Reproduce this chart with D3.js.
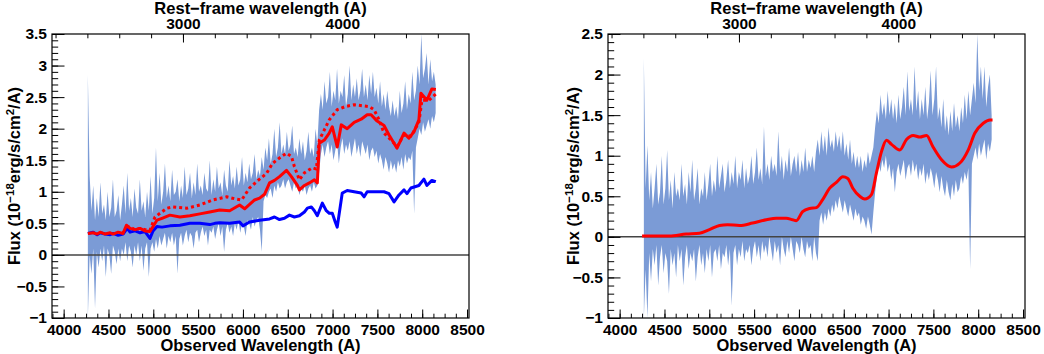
<!DOCTYPE html>
<html>
<head>
<meta charset="utf-8">
<script src="https://cdn.jsdelivr.net/npm/d3@7"></script>
<style>
  body { margin: 0; background: #fff; }
  text { font-family: "Liberation Sans", Arial, Helvetica, sans-serif; font-weight: bold; fill: #000; }
</style>
</head>
<body>
<svg id="chart" width="1044" height="354"></svg>
<script>

/************************************************************
 *
 * DATA
 *
 ************************************************************/

// sampling of the noisy spectrum band (observed A), 4270 .. 8150
var bandWave = d3.range(4270, 8151, 20);

var leftBandHi = [
  2.85,1.25,0.7,1.1,0.55,0.9,0.6,1.15,0.65,0.8,
  0.55,1.0,0.6,0.75,1.2,0.6,0.7,0.95,0.55,0.8,
  1.1,0.65,1.3,0.7,0.9,0.6,1.05,0.75,0.65,1.2,
  0.7,0.85,0.6,1.0,0.7,1.25,0.65,0.9,1.7,0.85,
  1.3,0.8,1.0,1.45,0.9,1.1,0.85,1.35,0.95,1.0,
  1.2,0.85,1.1,0.9,1.4,0.95,1.05,1.3,0.9,1.15,
  0.95,1.45,1.0,1.1,0.95,1.3,1.05,1.0,1.5,0.95,
  1.2,1.0,1.4,1.05,1.15,0.95,1.35,1.1,1.0,1.5,
  1.1,1.25,1.05,1.4,1.1,1.2,1.55,1.1,1.3,1.15,
  1.45,1.2,1.3,1.6,1.2,1.35,1.25,1.55,1.35,1.7,
  1.5,1.85,1.45,1.6,2.0,1.55,1.7,2.1,1.6,1.75,
  1.6,1.95,1.65,1.75,2.05,1.6,1.7,1.55,1.85,1.6,
  1.8,1.5,1.65,1.95,1.6,1.7,1.55,2.0,1.75,2.3,
  2.55,2.3,2.75,2.4,2.5,2.9,2.35,2.6,2.45,2.95,
  2.4,2.6,2.5,2.85,2.35,2.55,3.0,2.45,2.7,2.5,
  2.8,2.45,2.6,2.95,2.5,2.7,2.45,2.85,2.55,2.9,
  2.5,2.65,2.4,2.75,2.35,2.55,2.3,2.6,2.35,2.2,
  2.45,2.2,2.35,2.15,2.6,2.25,2.4,2.75,2.3,2.55,
  2.4,2.9,2.45,2.6,3.0,2.7,3.5,2.8,2.95,3.2,
  2.7,3.1,2.75,2.9,2.7];
var leftBandLo = [
  -1.0,0.0,-0.3,0.1,-0.85,0.05,-0.2,0.1,-0.1,0.15,
  -0.35,0.1,0.0,-0.3,0.15,0.05,-0.15,0.1,-0.1,0.1,
  0.0,0.2,-0.1,0.15,0.05,-0.2,0.15,0.0,0.2,-0.1,
  0.15,-0.25,0.1,0.2,-0.35,0.1,0.2,0.05,0.25,0.1,
  0.3,0.15,0.25,0.35,0.1,0.3,0.2,0.35,0.15,0.3,
  -0.3,0.25,0.35,0.15,0.3,0.4,0.2,0.35,0.3,0.1,
  0.35,0.4,0.2,0.35,0.45,0.3,0.4,0.15,0.4,0.35,
  0.45,0.25,0.4,0.5,0.3,0.45,0.05,0.4,0.5,0.35,
  0.45,0.3,0.5,0.4,0.55,0.35,0.5,0.45,0.3,0.55,
  0.5,0.4,0.6,0.45,0.55,0.6,0.4,0.05,0.85,0.95,
  0.9,1.0,1.05,0.9,1.1,1.0,1.15,1.05,1.1,1.2,
  1.05,1.15,1.2,1.1,1.0,1.15,1.05,1.1,0.95,1.05,
  1.0,1.1,0.95,1.05,1.1,1.0,1.15,1.05,1.1,1.3,
  1.6,1.75,1.55,1.7,1.8,1.6,1.75,1.5,1.65,1.8,
  1.45,1.7,1.85,1.6,1.75,1.65,1.8,1.55,1.7,1.85,
  1.6,1.75,1.55,1.8,1.7,1.6,1.75,1.5,1.65,1.7,
  1.55,1.65,1.45,1.6,1.5,1.35,1.55,1.45,1.3,1.5,
  1.35,1.45,1.3,1.5,1.4,1.55,1.35,1.6,1.45,1.55,
  1.5,1.65,0.65,1.7,1.85,2.0,1.9,2.1,1.95,2.05,
  2.15,2.0,2.2,2.1,2.25];

var rightBandHi = [
  2.2,0.6,1.13,0.45,0.8,0.35,0.6,0.9,0.4,0.55,
  1.0,0.4,0.6,1.07,0.45,0.7,0.35,0.8,0.5,0.6,
  0.45,0.9,0.5,0.65,0.4,0.8,0.55,0.95,0.45,0.6,
  0.85,0.4,0.6,0.5,0.8,0.45,0.65,0.9,0.5,0.7,
  0.55,1.0,0.6,0.75,0.9,0.55,0.7,0.95,0.6,0.8,
  0.65,1.0,0.6,0.8,0.7,0.95,0.6,0.85,0.65,0.75,
  1.0,0.65,0.8,1.1,0.7,0.85,0.65,1.36,0.75,0.9,
  0.7,1.0,0.8,0.9,0.75,1.3,0.8,1.0,0.7,0.95,
  0.8,1.1,0.75,0.9,1.0,0.8,1.05,0.75,0.95,0.8,
  1.1,0.8,0.95,0.85,1.0,0.8,1.05,1.2,1.0,1.3,
  1.05,1.25,1.0,1.35,1.1,1.2,1.05,1.3,1.1,1.25,
  1.05,1.3,1.0,1.15,0.95,1.2,0.9,1.05,0.85,1.0,
  0.85,1.0,0.8,0.95,0.85,1.05,0.9,1.0,1.1,1.35,
  1.55,1.4,1.75,1.5,1.65,1.45,1.8,1.5,1.7,1.45,
  1.65,1.4,1.75,1.45,1.6,1.85,1.5,2.04,1.55,1.7,
  1.5,2.1,1.55,1.8,1.45,1.7,1.5,1.85,1.45,1.65,
  2.05,1.5,1.7,2.1,1.45,1.6,1.35,1.7,1.3,1.5,
  1.25,1.55,1.3,1.65,1.35,1.5,1.3,1.6,1.4,1.75,
  1.45,1.8,1.5,1.7,1.9,1.65,2.5,1.8,2.1,1.7,
  2.1,1.6,1.85,2.0,1.5];
var rightBandLo = [
  -1.0,-0.4,-1.0,-0.2,-0.55,-0.15,-0.35,-0.1,-0.6,-0.25,
  -0.1,-0.45,-0.2,-0.3,-0.7,-0.15,-0.35,-0.2,-0.5,-0.1,
  -0.3,-0.15,-0.6,-0.25,-0.1,-0.4,-0.2,-0.3,-0.15,-0.55,
  -0.25,-0.1,-0.35,-0.2,-0.45,-0.15,-0.3,-0.1,-0.5,-0.2,
  -0.15,-0.3,-0.1,-0.4,-0.2,-0.25,-0.1,-0.35,-0.15,-0.85,
  -0.2,-0.1,-0.35,-0.15,-0.25,-0.05,-0.3,-0.15,-0.2,-0.1,
  -0.35,-0.15,-0.05,-0.25,-0.1,-0.3,-0.05,-0.2,-0.1,-0.25,
  0.0,-0.15,-0.3,-0.05,-0.2,-0.1,-0.35,0.0,-0.15,-0.25,
  -0.05,-0.2,0.0,-0.15,-0.3,-0.05,-0.1,-0.2,0.0,-0.15,
  -0.25,-0.05,-0.15,-0.1,-0.3,0.0,-0.2,-0.3,0.2,0.3,
  0.15,0.3,0.2,0.35,0.25,0.4,0.3,0.45,0.35,0.5,
  0.4,0.3,0.45,0.35,0.25,0.4,0.3,0.2,0.35,0.25,
  0.3,0.15,0.25,0.2,0.1,0.25,0.15,0.03,0.3,0.55,
  0.75,0.9,0.8,0.95,0.85,1.0,0.8,0.9,0.7,0.85,
  0.55,0.8,0.9,0.75,0.85,0.95,0.7,0.85,0.9,0.75,
  0.95,0.8,0.9,0.7,0.85,0.75,0.9,0.65,0.8,0.7,
  0.85,0.75,0.6,0.8,0.7,0.55,0.75,0.6,0.5,0.7,
  0.55,0.45,0.65,0.5,0.7,0.55,0.6,0.75,0.65,0.8,
  0.7,0.85,-0.4,0.9,1.0,1.1,0.95,1.15,1.0,1.1,
  1.2,0.95,1.15,1.05,1.2];

// left panel: total model (solid red)
var leftFitWave = [4270,4330,4374,4408,4463,4519,4552,4608,4663,4700,4741,4797,4852,4908,4963,4997,5041,5097,5186,5297,
  5408,5519,5630,5741,5852,5963,6019,6074,6130,6186,6241,6297,6352,6408,6486,6541,6608,6630,6686,6741,
  6797,6830,6852,6908,6963,6997,7052,7097,7163,7241,7319,7386,7430,7497,7574,7630,7719,7797,7852,7908,
  7963,7986,8052,8108,8152];
var leftFit = [0.34,0.35,0.33,0.36,0.33,0.35,0.33,0.36,0.34,0.47,0.42,0.40,0.42,0.38,0.37,0.45,0.55,0.58,0.63,0.60,
  0.62,0.65,0.68,0.71,0.70,0.79,0.73,0.80,0.87,0.90,0.96,1.14,1.18,1.24,1.34,1.24,1.10,1.03,1.10,1.14,
  1.19,1.14,1.77,1.82,1.93,2.03,1.71,2.06,2.00,2.10,2.15,2.22,2.22,2.12,2.05,1.90,1.69,1.93,1.85,1.95,
  2.14,2.56,2.45,2.63,2.62];

// left panel: alternative model (dotted red)
var leftAltWave = [4700,4741,4797,4852,4908,4963,5019,5152,5219,5374,5519,5663,5819,5908,5986,6074,6152,6263,6330,6430,
  6486,6541,6574,6630,6686,6774,6819,6852,6908,6963,6997,7052,7141,7241,7408,7463,7519,7574,7652,7719,
  7797,7874,7963,7997,8074,8152];
var leftAlt = [0.45,0.44,0.40,0.42,0.40,0.39,0.60,0.74,0.76,0.74,0.79,0.87,0.92,0.89,0.87,1.06,1.16,1.29,1.45,1.56,
  1.61,1.56,1.40,1.19,1.30,1.38,1.36,1.82,1.98,2.14,2.20,2.30,2.35,2.38,2.35,2.30,2.14,1.93,1.82,1.72,
  1.90,1.88,2.10,2.45,2.45,2.55];

// left panel: host component (blue)
var leftHostWave = [4270,4330,4374,4408,4463,4519,4552,4608,4663,4708,4741,4797,4852,4908,4963,4997,5041,5097,5186,5297,
  5408,5519,5630,5686,5741,5852,5963,6000,6074,6186,6297,6352,6408,6463,6519,6574,6630,6686,6719,6763,
  6797,6830,6886,6930,6963,6997,7030,7052,7108,7163,7241,7319,7352,7386,7463,7574,7630,7686,7741,7797,
  7830,7874,7963,8019,8052,8108,8152];
var leftHost = [0.34,0.36,0.32,0.35,0.33,0.32,0.34,0.31,0.33,0.42,0.36,0.38,0.35,0.37,0.26,0.38,0.45,0.44,0.46,0.47,
  0.50,0.50,0.48,0.50,0.51,0.50,0.52,0.46,0.52,0.55,0.57,0.60,0.56,0.58,0.63,0.60,0.62,0.68,0.74,0.76,
  0.70,0.62,0.82,0.70,0.66,0.66,0.52,0.44,0.98,1.02,1.00,0.98,0.92,1.00,1.00,1.00,0.97,0.84,0.95,1.03,
  0.97,1.06,1.10,1.20,1.10,1.18,1.16];

// right panel: smooth model (red)
var rightFitWave = [4250,4555,4742,4890,5002,5114,5203,5337,5483,5636,5747,5859,5930,5970,6041,6119,6194,6265,6343,6418,
  6489,6545,6601,6679,6735,6809,6865,6921,6977,7033,7125,7200,7274,7349,7424,7495,7591,7703,7796,7888,
  7963,8056,8131,8160];
var rightFit = [0.01,0.01,0.035,0.045,0.09,0.14,0.15,0.14,0.17,0.21,0.23,0.23,0.21,0.20,0.31,0.35,0.36,0.46,0.60,0.67,
  0.74,0.72,0.60,0.50,0.466,0.52,0.79,1.05,1.19,1.14,1.07,1.20,1.25,1.23,1.25,1.11,0.95,0.86,0.91,1.07,
  1.28,1.40,1.44,1.44];

var xTicks = d3.range(4000, 8501, 500);
var topTicks = [3000, 4000];
var leftYTicks = d3.range(-1, 3.51, 0.5);
var rightYTicks = d3.range(-1, 2.51, 0.5);

/************************************************************
 *
 * DRAWING
 *
 ************************************************************/

var svg = d3.select("#chart");
var yTop = 34, yBot = 318;
var obsDomain = [3870, 8522],
    zFactor = 1.777;

var panels = [
  { id: "L", left: 52, right: 469, yDomain: [-1, 3.5], yTicks: leftYTicks, titleX: 19.5,
    hi: leftBandHi, lo: leftBandLo,
    lines: [
      { wave: leftHostWave, flux: leftHost, color: "#0000ff", dash: null, smooth: false },
      { wave: leftAltWave, flux: leftAlt, color: "#ff0000", dash: "3,3", smooth: false },
      { wave: leftFitWave, flux: leftFit, color: "#ff0000", dash: null, smooth: false }
    ] },
  { id: "R", left: 608, right: 1025, yDomain: [-1, 2.5], yTicks: rightYTicks, titleX: 579,
    hi: rightBandHi, lo: rightBandLo,
    lines: [
      { wave: rightFitWave, flux: rightFit, color: "#ff0000", dash: null, smooth: true }
    ] }
];

panels.forEach(drawPanel);

function drawPanel(p) {
  var g = svg.append("g");

  var x = d3.scaleLinear().domain(obsDomain).range([p.left, p.right]);
  var xr = d3.scaleLinear().domain(obsDomain.map(function(d) { return d / zFactor; })).range([p.left, p.right]);
  var y = d3.scaleLinear().domain(p.yDomain).range([yBot, yTop]);

  g.append("clipPath").attr("id", "clip" + p.id)
    .append("rect")
      .attr("x", p.left).attr("y", yTop)
      .attr("width", p.right - p.left).attr("height", yBot - yTop);

  var plot = g.append("g").attr("clip-path", "url(#clip" + p.id + ")");

  // noisy spectrum band
  var area = d3.area()
      .x(function(d, i) { return x(bandWave[i]); })
      .y0(function(d, i) { return y(p.lo[i]); })
      .y1(function(d, i) { return y(p.hi[i]); });

  plot.append("path")
    .datum(p.hi)
    .attr("d", area)
    .style("fill", "#7b9bd6");

  // zero line
  plot.append("line")
    .attr("x1", p.left).attr("x2", p.right)
    .attr("y1", y(0)).attr("y2", y(0))
    .style("stroke", "#444")
    .style("stroke-width", "1.5px");

  p.lines.forEach(function(l) {
    var line = d3.line()
        .x(function(d, i) { return x(l.wave[i]); })
        .y(function(d) { return y(d); })
        .curve(l.smooth ? d3.curveMonotoneX : d3.curveLinear);
    plot.append("path")
      .datum(l.flux)
      .attr("d", line)
      .style("fill", "none")
      .style("stroke", l.color)
      .style("stroke-width", "3px")
      .style("stroke-linejoin", "round")
      .style("stroke-dasharray", l.dash);
  });

  // axes
  var fmt = d3.format("~g");

  g.append("g")
      .attr("transform", "translate(0," + yBot + ")")
      .call(d3.axisBottom(x).tickValues(xTicks).tickSize(-8.5).tickPadding(6).tickFormat(fmt));
  g.append("g")
      .attr("transform", "translate(0," + yBot + ")")
      .call(d3.axisBottom(x).tickValues(d3.range(3875, 8522, 125)).tickSize(-4.3).tickFormat(""));

  g.append("g")
      .attr("transform", "translate(0," + yTop + ")")
      .call(d3.axisTop(xr).tickValues(topTicks).tickSize(-8.5).tickPadding(5).tickFormat(fmt));
  g.append("g")
      .attr("transform", "translate(0," + yTop + ")")
      .call(d3.axisTop(xr).tickValues(d3.range(2200, 4796, 200)).tickSize(-4.3).tickFormat(""));

  g.append("g")
      .attr("transform", "translate(" + p.left + ",0)")
      .call(d3.axisLeft(y).tickValues(p.yTicks).tickSize(-12.5).tickPadding(5).tickFormat(fmt));
  g.append("g")
      .attr("transform", "translate(" + p.left + ",0)")
      .call(d3.axisLeft(y).tickValues(d3.range(p.yDomain[0] * 10, p.yDomain[1] * 10 + 1).map(function(d) { return d / 10; }))
        .tickSize(-6.2).tickFormat(""));

  g.selectAll(".domain").remove();
  g.selectAll(".tick line").style("stroke", "#000").style("stroke-width", "1px");
  g.selectAll(".tick text")
    .attr("font-family", null)
    .style("font-size", "15.5px")
    .style("fill", "#000");

  g.append("rect")
    .attr("x", p.left).attr("y", yTop)
    .attr("width", p.right - p.left).attr("height", yBot - yTop)
    .style("fill", "none")
    .style("stroke", "#000")
    .style("stroke-width", "1.2px");

  // titles
  var cx = (p.left + p.right) / 2;
  g.append("text")
    .attr("x", cx).attr("y", 351)
    .style("text-anchor", "middle")
    .style("font-size", "16.5px")
    .text("Observed Wavelength (A)");

  g.append("text")
    .attr("x", cx).attr("y", 14)
    .style("text-anchor", "middle")
    .style("font-size", "16.5px")
    .text("Rest\u2212frame wavelength (A)");

  var yt = g.append("text")
    .attr("transform", "translate(" + p.titleX + "," + ((yTop + yBot) / 2) + ") rotate(-90)")
    .style("text-anchor", "middle")
    .style("font-size", "16.5px");
  yt.append("tspan").text("Flux (10");
  yt.append("tspan").attr("dy", -6).style("font-size", "11.5px").text("\u221218");
  yt.append("tspan").attr("dy", 6).text("erg/s/cm");
  yt.append("tspan").attr("dy", -6).style("font-size", "11.5px").text("2");
  yt.append("tspan").attr("dy", 6).text("/A)");
}
</script>
</body>
</html>
